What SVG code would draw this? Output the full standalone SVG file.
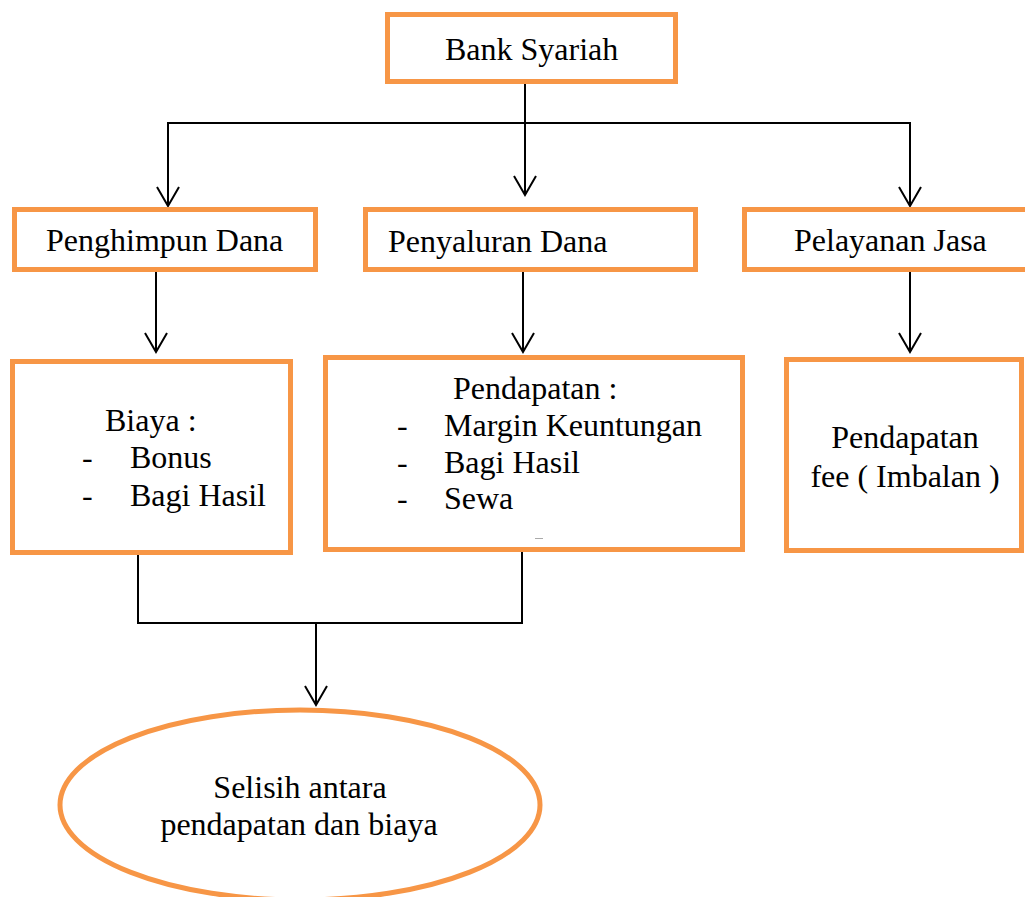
<svg xmlns="http://www.w3.org/2000/svg" width="1025" height="897" viewBox="0 0 1025 897">
<style>
.box{fill:#fff;stroke:#F79646;stroke-width:5}
.t{font-family:"Liberation Serif","Times New Roman",serif;font-size:32px;fill:#000}
.c{text-anchor:middle}
.ln{fill:none;stroke:#000;stroke-width:2}
</style>
<defs>
<marker id="arr" markerUnits="userSpaceOnUse" viewBox="-1 -13 23 26" markerWidth="23" markerHeight="26" refX="19" refY="0" orient="auto">
<path d="M0,-11 L19,0 L0,11" fill="none" stroke="#000" stroke-width="2"/>
</marker>
</defs>
<rect width="1025" height="897" fill="#fff"/>
<g id="connectors">
<path class="ln" d="M525,84 V195" marker-end="url(#arr)"/>
<path class="ln" d="M525,123 H168 V206" marker-end="url(#arr)"/>
<path class="ln" d="M525,123 H910 V206" marker-end="url(#arr)"/>
<path class="ln" d="M156,272 V352" marker-end="url(#arr)"/>
<path class="ln" d="M523,272 V352" marker-end="url(#arr)"/>
<path class="ln" d="M910,272 V352" marker-end="url(#arr)"/>
<path class="ln" d="M138,555 V623 H522 V549"/>
<path class="ln" d="M316,623 V705" marker-end="url(#arr)"/>
</g>
<g id="bank">
<rect class="box" x="387.5" y="14.5" width="288" height="67"/>
<text class="t" x="445" y="60">Bank Syariah</text>
</g>
<g id="penghimpun">
<rect class="box" x="14.5" y="209.5" width="301" height="60"/>
<text class="t" x="46" y="251">Penghimpun Dana</text>
</g>
<g id="penyaluran">
<rect class="box" x="365.5" y="209.5" width="330" height="60"/>
<text class="t" x="388" y="252">Penyaluran Dana</text>
</g>
<g id="pelayanan">
<rect class="box" x="744.5" y="209.5" width="290" height="60"/>
<text class="t" x="794" y="251">Pelayanan Jasa</text>
</g>
<g id="biaya">
<rect class="box" x="12.5" y="361.5" width="278" height="191"/>
<text class="t" x="105" y="431">Biaya :</text>
<text class="t" x="82" y="468">-</text>
<text class="t" x="130" y="468">Bonus</text>
<text class="t" x="82" y="506">-</text>
<text class="t" x="130" y="506">Bagi Hasil</text>
</g>
<g id="pendapatan">
<rect class="box" x="325.5" y="357.5" width="417" height="192"/>
<text class="t" x="453" y="399">Pendapatan :</text>
<text class="t" x="397" y="436">-</text>
<text class="t" x="444" y="436">Margin Keuntungan</text>
<text class="t" x="397" y="473">-</text>
<text class="t" x="444" y="473">Bagi Hasil</text>
<text class="t" x="397" y="509">-</text>
<text class="t" x="444" y="509">Sewa</text>
<line x1="535" y1="538.5" x2="543" y2="538.5" stroke="#aaa" stroke-width="1"/>
</g>
<g id="fee">
<rect class="box" x="786.5" y="359.5" width="235" height="191"/>
<text class="t c" x="905" y="448">Pendapatan</text>
<text class="t c" x="905" y="487">fee ( Imbalan )</text>
</g>
<g id="selisih">
<ellipse class="box" cx="300" cy="805" rx="240" ry="95"/>
<text class="t c" x="300" y="798">Selisih antara</text>
<text class="t c" x="299" y="835">pendapatan dan biaya</text>
</g>
</svg>
